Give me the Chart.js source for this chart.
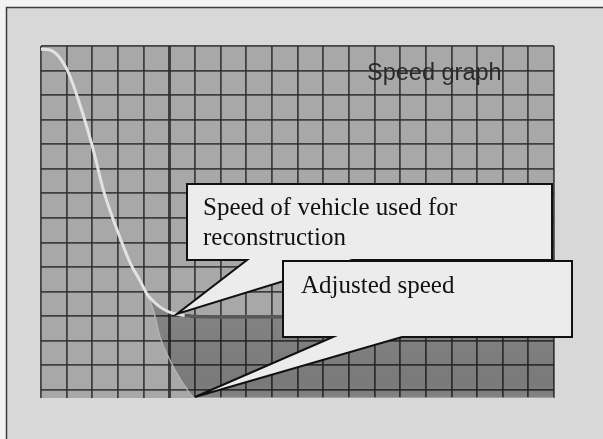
<!DOCTYPE html>
<html>
<head>
<meta charset="utf-8">
<script src="https://cdn.jsdelivr.net/npm/chart.js@4/dist/chart.umd.min.js"></script>
<style>
  html, body { margin: 0; padding: 0; background: #f3f3f3; }
  canvas { display: block; }
</style>
</head>
<body>
<canvas id="speed" width="603" height="439"></canvas>
<script>
// Time axis (grid units) shared by both speed traces
const time = [0, 0.35, 1.0, 1.5, 2.0, 2.45, 3.0, 3.5, 3.85, 4.15, 4.4, 4.65, 5.0, 5.3, 5.6, 6.0, 7.0, 20];
// Speed of the vehicle used for the reconstruction
const reconSpeed = [14.2, 14.17, 13.4, 12.0, 10.25, 8.4, 6.75, 5.45, 4.8, 4.2, 3.92, 3.7, 3.5, 3.42, 3.36, 3.32, 3.3, 3.3];
// Adjusted speed
const adjustedSpeed = [14.2, 14.17, 13.4, 12.0, 10.25, 8.4, 6.75, 5.45, 4.8, 4.2, 3.5, 2.45, 1.6, 1.0, 0.5, 0, 0, 0];
// Where the reconstruction trace settles into its constant tail
const settleTime = 5.6;

// Grid lines
const xGrid = Array.from({ length: 21 }, (_, i) => i);
const yGrid = Array.from({ length: 15 }, (_, i) => i + 0.33);
const xMax = 20;
const yMax = 14.33;

// Callout texts and which sample each one points at
const chartTitle = 'Speed graph';
const reconLabel = ['Speed of vehicle used for', 'reconstruction'];
const adjustedLabel = ['Adjusted speed'];
const reconPointAt = 5.3;
const adjustedPointAt = 6.0;

const toPoints = (ys) => time.map((t, i) => ({ x: t, y: ys[i] }));

const backdrop = {
  id: 'backdrop',
  beforeDraw(chart) {
    const { ctx, chartArea: a } = chart;
    ctx.save();
    ctx.fillStyle = '#f3f3f3';
    ctx.fillRect(0, 0, chart.width, chart.height);
    ctx.fillStyle = '#d8d8d8';
    ctx.fillRect(6, 7, chart.width, chart.height);
    ctx.strokeStyle = '#3c3c3c';
    ctx.lineWidth = 1.5;
    ctx.strokeRect(6.5, 7.5, chart.width + 10, chart.height + 10);
    ctx.fillStyle = '#a8a8a8';
    ctx.fillRect(a.left, a.top, a.right - a.left, a.bottom - a.top);
    ctx.restore();
  }
};

function callout(ctx, box, baseL, baseR, tip, lines, textX, firstBaseline, lineGap) {
  ctx.beginPath();
  ctx.moveTo(box.l, box.t);
  ctx.lineTo(box.r, box.t);
  ctx.lineTo(box.r, box.b);
  ctx.lineTo(baseR, box.b);
  ctx.lineTo(tip.x, tip.y);
  ctx.lineTo(baseL, box.b);
  ctx.lineTo(box.l, box.b);
  ctx.closePath();
  ctx.fillStyle = '#ececec';
  ctx.fill();
  ctx.strokeStyle = '#111';
  ctx.lineWidth = 2;
  ctx.lineJoin = 'miter';
  ctx.stroke();
  ctx.fillStyle = '#111';
  ctx.font = '25px "Liberation Serif", "Times New Roman", serif';
  ctx.textBaseline = 'alphabetic';
  ctx.textAlign = 'left';
  lines.forEach((s, i) => ctx.fillText(s, textX, firstBaseline + i * lineGap));
}

const annotations = {
  id: 'annotations',
  afterDraw(chart) {
    const { ctx, scales: { x, y } } = chart;
    ctx.save();
    ctx.fillStyle = '#2a2a2a';
    ctx.font = '23.5px "Liberation Sans", Arial, sans-serif';
    ctx.fillText(chartTitle, 367, 80);

    const ri = time.indexOf(reconPointAt);
    const ai = time.indexOf(adjustedPointAt);
    const reconTip = { x: x.getPixelForValue(time[ri]), y: y.getPixelForValue(reconSpeed[ri]) };
    const adjTip = { x: x.getPixelForValue(time[ai]), y: y.getPixelForValue(adjustedSpeed[ai]) - 1 };

    callout(ctx, { l: 187, t: 184, r: 552, b: 260 }, 247, 352, reconTip, reconLabel, 203, 215, 30);
    callout(ctx, { l: 283, t: 261, r: 572, b: 337 }, 333, 402, adjTip, adjustedLabel, 301, 293, 30);
    ctx.restore();
  }
};

new Chart(document.getElementById('speed'), {
  type: 'line',
  data: {
    datasets: [
      {
        // constant tail of the reconstruction trace, drawn as a dark band
        label: 'Reconstruction tail',
        data: toPoints(reconSpeed).filter((p) => p.x >= settleTime),
        borderColor: 'rgba(55,55,55,0.8)',
        borderWidth: 3.5,
        pointRadius: 0,
        cubicInterpolationMode: 'monotone',
        fill: false
      },
      {
        label: 'Speed of vehicle used for reconstruction',
        data: toPoints(reconSpeed),
        borderColor: '#e2e2e2',
        borderWidth: 3,
        pointRadius: 0,
        cubicInterpolationMode: 'monotone',
        fill: false
      },
      {
        label: 'Adjusted speed',
        data: toPoints(adjustedSpeed),
        borderColor: 'rgba(180,180,180,0.9)',
        borderWidth: 1.5,
        pointRadius: 0,
        cubicInterpolationMode: 'monotone',
        fill: 1,
        backgroundColor: (c) => {
          const a = c.chart.chartArea;
          if (!a) return 'rgba(0,0,0,0.22)';
          const g = c.chart.ctx.createLinearGradient(0, a.top + (a.bottom - a.top) * 0.7, 0, a.bottom);
          g.addColorStop(0, 'rgba(0,0,0,0.2)');
          g.addColorStop(0.2, 'rgba(0,0,0,0.22)');
          g.addColorStop(0.85, 'rgba(0,0,0,0.28)');
          g.addColorStop(1, 'rgba(0,0,0,0.22)');
          return g;
        }
      }
    ]
  },
  options: {
    responsive: false,
    animation: false,
    events: [],
    layout: { padding: { left: 41, top: 46, right: 49, bottom: 41 } },
    plugins: { legend: { display: false }, tooltip: { enabled: false }, title: { display: false } },
    scales: {
      x: {
        type: 'linear',
        min: 0,
        max: xMax,
        afterBuildTicks: (s) => { s.ticks = xGrid.map((v) => ({ value: v })); },
        ticks: { display: false },
        border: { display: false },
        grid: {
          drawTicks: false,
          color: 'rgba(45,45,45,0.85)',
          lineWidth: (c) => (c.tick && c.tick.value === 5 ? 3 : 1.8)
        }
      },
      y: {
        type: 'linear',
        min: 0,
        max: yMax,
        afterBuildTicks: (s) => { s.ticks = yGrid.map((v) => ({ value: v })); },
        ticks: { display: false },
        border: { display: false },
        grid: {
          drawTicks: false,
          color: 'rgba(45,45,45,0.85)',
          lineWidth: 1.8
        }
      }
    }
  },
  plugins: [backdrop, annotations]
});
</script>
</body>
</html>
